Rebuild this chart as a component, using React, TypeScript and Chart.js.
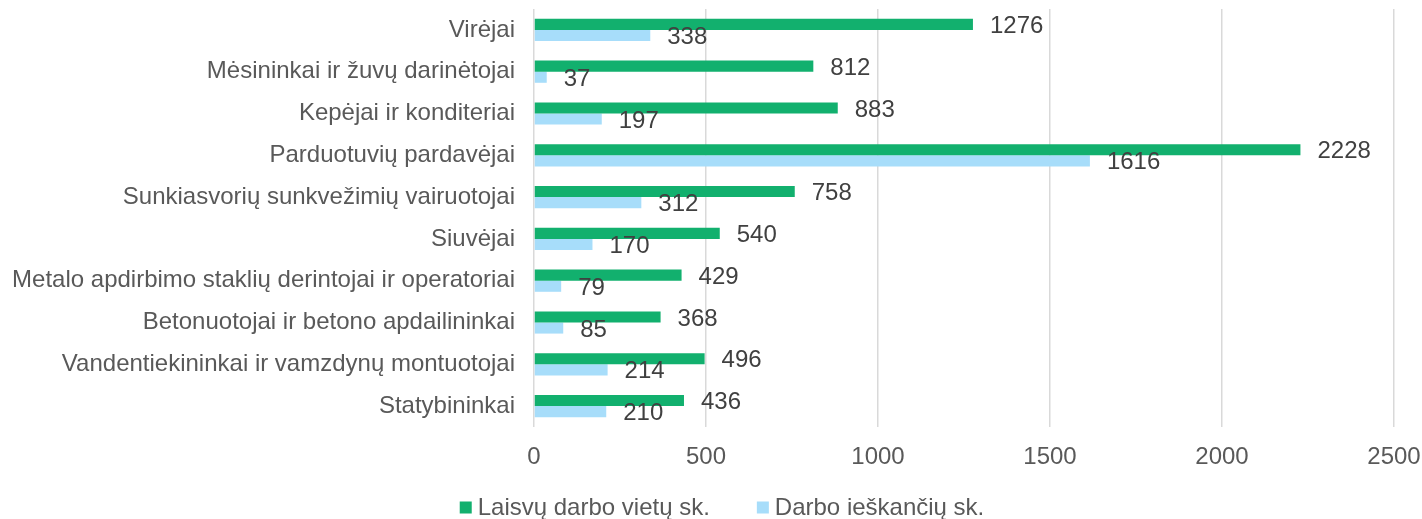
import React, { useEffect, useRef } from "react";
import { Chart, registerables } from "chart.js";

Chart.register(...registerables);

const categories = [
  "Virėjai",
  "Mėsininkai ir žuvų darinėtojai",
  "Kepėjai ir konditeriai",
  "Parduotuvių pardavėjai",
  "Sunkiasvorių sunkvežimių vairuotojai",
  "Siuvėjai",
  "Metalo apdirbimo staklių derintojai ir operatoriai",
  "Betonuotojai ir betono apdailininkai",
  "Vandentiekininkai ir vamzdynų montuotojai",
  "Statybininkai",
];
const vacancies = [1276, 812, 883, 2228, 758, 540, 429, 368, 496, 436];
const jobSeekers = [338, 37, 197, 1616, 312, 170, 79, 85, 214, 210];
const seriesNames = ["Laisvų darbo vietų sk.", "Darbo ieškančių sk."];
const seriesColors = ["#12B06E", "#A7DDFA"];
const xTicks = [0, 500, 1000, 1500, 2000, 2500];

const FONT = "'Liberation Sans', Arial, sans-serif";
const TEXT = "#595959";

const labelPlugin = {
  id: "barLabels",
  afterDatasetsDraw(chart: any) {
    const ctx = chart.ctx;
    ctx.save();
    ctx.font = `24px ${FONT}`;
    ctx.fillStyle = "#404040";
    ctx.textAlign = "left";
    ctx.textBaseline = "middle";
    chart.data.datasets.forEach((ds: any, di: number) => {
      const meta = chart.getDatasetMeta(di);
      meta.data.forEach((bar: any, i: number) => {
        ctx.fillText(String(ds.data[i]), bar.x + 17, bar.y + 2);
      });
    });
    ctx.restore();
  },
};

const legendPlugin = {
  id: "customLegend",
  afterDraw(chart: any) {
    const ctx = chart.ctx;
    ctx.save();
    ctx.font = `24px ${FONT}`;
    const box = 12;
    const gapBoxText = 6;
    const gapItems = 47;
    const widths = chart.data.datasets.map(
      (ds: any) => box + gapBoxText + ctx.measureText(ds.label).width
    );
    const total = widths.reduce((a: number, b: number) => a + b, 0) + gapItems * (widths.length - 1);
    let x = 722 - total / 2;
    const yc = 507.5;
    ctx.textBaseline = "middle";
    ctx.textAlign = "left";
    chart.data.datasets.forEach((ds: any, i: number) => {
      ctx.fillStyle = ds.backgroundColor;
      ctx.fillRect(x, yc - box / 2, box, box);
      ctx.fillStyle = TEXT;
      ctx.fillText(ds.label, x + box + gapBoxText, yc + 1);
      x += widths[i] + gapItems;
    });
    ctx.restore();
  },
};

export default function App() {
  const ref = useRef<HTMLCanvasElement>(null);
  useEffect(() => {
    if (!ref.current) return;
    const chart = new Chart(ref.current, {
      type: "bar",
      data: {
        labels: categories,
        datasets: [
          {
            label: seriesNames[0],
            data: vacancies,
            backgroundColor: seriesColors[0],
            barPercentage: 1,
            categoryPercentage: 0.53,
          },
          {
            label: seriesNames[1],
            data: jobSeekers,
            backgroundColor: seriesColors[1],
            barPercentage: 1,
            categoryPercentage: 0.53,
          },
        ],
      },
      options: {
        indexAxis: "y",
        animation: false,
        responsive: true,
        maintainAspectRatio: false,
        layout: { padding: { top: 9, right: 28, left: 0, bottom: 42 } },
        scales: {
          x: {
            min: 0,
            max: 2500,
            afterBuildTicks: (scale: any) => {
              scale.ticks = xTicks.map((v) => ({ value: v }));
            },
            afterFit: (scale: any) => {
              scale.height = 50;
              scale.paddingLeft = 0;
              scale.paddingRight = 0;
            },
            grid: { color: "#D9D9D9", lineWidth: 1.5, drawTicks: false },
            border: { display: false },
            ticks: {
              color: TEXT,
              font: { family: FONT, size: 24 },
              padding: 16,
              callback: (v: any) => String(v),
            },
          },
          y: {
            grid: { display: false },
            border: { display: false },
            afterFit: (scale: any) => {
              scale.width = 534;
              scale.paddingTop = 0;
              scale.paddingBottom = 0;
            },
            ticks: {
              color: TEXT,
              font: { family: FONT, size: 24 },
              padding: 11,
            },
          },
        },
        plugins: {
          legend: { display: false },
          tooltip: { enabled: false },
        },
      },
      plugins: [labelPlugin, legendPlugin],
    });
    return () => chart.destroy();
  }, []);
  return (
    <div style={{ position: "fixed", left: 0, top: 0, width: 1422, height: 519 }}>
      <canvas ref={ref} />
    </div>
  );
}
